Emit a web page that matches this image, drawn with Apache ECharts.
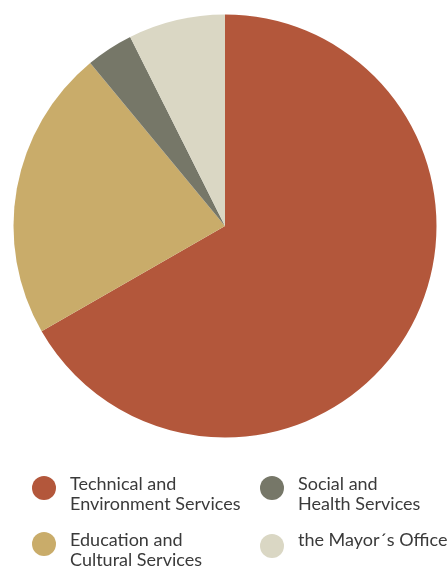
<!DOCTYPE html>
<html><head><meta charset="utf-8">
<script src="https://cdn.jsdelivr.net/npm/echarts@6/dist/echarts.min.js"></script>
<style>html,body{margin:0;padding:0;background:#fff}#c{width:448px;height:566px}</style>
</head><body><div id="c"></div>
<script>
var categories = ['Technical and Environment Services', 'Education and Cultural Services', 'Social and Health Services', 'the Mayor´s Office'];
var labelLines = [['Technical and', 'Environment Services'], ['Education and', 'Cultural Services'], ['Social and', 'Health Services'], ['the Mayor´s Office']];
var values = [66.7, 22.3, 3.6, 7.4];
var colors = ['#B3573B', '#C9AC6A', '#767768', '#DAD7C4'];

var chart = echarts.init(document.getElementById('c'), null, {renderer: 'canvas'});
var iconPos = [[32, 478], [32, 534], [260, 478], [260, 534]];
var legends = categories.map(function (name, i) {
  var lines = labelLines[i];
  var txt = lines.length > 1
    ? '{s| }\n' + lines.map(function (l) { return '{t|' + l + '}'; }).join('\n')
    : '{t|' + lines[0] + '}\n{s| }';
  var off = lines.length > 1 ? 13 : 3;
  return {
    data: [name],
    left: iconPos[i][0],
    top: iconPos[i][1] - off,
    padding: 0,
    icon: 'circle',
    itemWidth: 24, itemHeight: 24,
    selectedMode: false,
    formatter: function () { return txt; },
    textStyle: {
      fontFamily: 'Lato', fontSize: 18, color: '#3a3a3a',
      rich: {
        s: {lineHeight: 12, fontSize: 6},
        t: {fontFamily: 'Lato', fontSize: 18, lineHeight: 20, color: '#3a3a3a', padding: [0, 0, 0, 9]}
      }
    }
  };
});
chart.setOption({
  animation: false,
  color: colors,
  legend: legends,
  series: [{
    type: 'pie',
    center: [225, 226],
    radius: 211.5,
    startAngle: 90,
    clockwise: true,
    label: {show: false},
    labelLine: {show: false},
    emphasis: {disabled: true},
    data: categories.map(function (n, i) { return {name: n, value: values[i], itemStyle: {color: colors[i]}}; })
  }]
});
</script></body></html>
